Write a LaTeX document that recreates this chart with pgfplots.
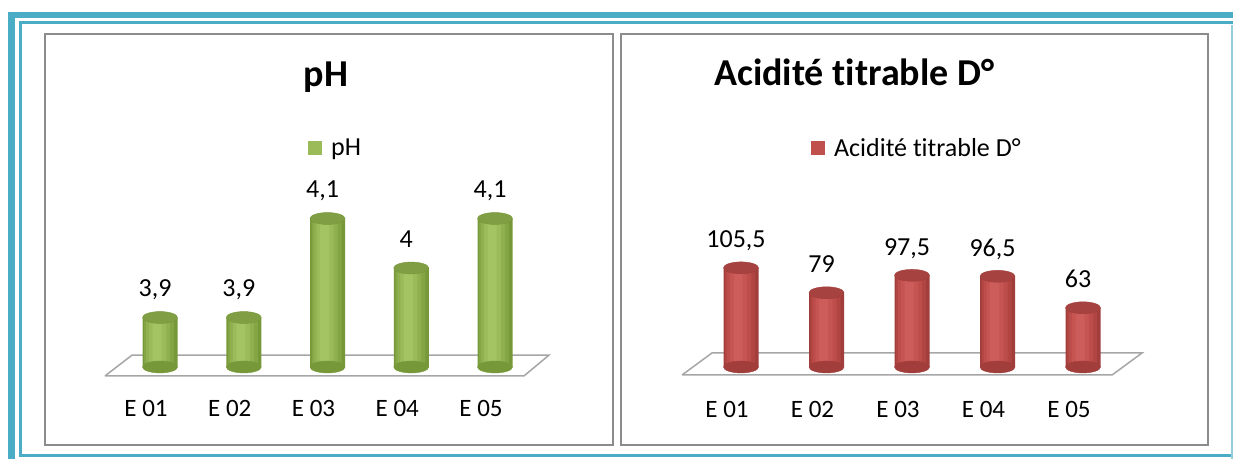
\documentclass[border=0pt]{standalone}
\usepackage{pgfplots}
\usepackage{pgfplotstable}
\pgfplotsset{compat=1.18}
\usepackage{fontspec}
\setmainfont{Carlito}[Ligatures=NoCommon]

\definecolor{tealb}{HTML}{4BACC6}
\definecolor{tealc}{HTML}{93CDDD}
\definecolor{framegray}{HTML}{8C8C8C}
\definecolor{floorgray}{HTML}{A6A6A6}
\definecolor{gmain}{HTML}{9BBB59}
\definecolor{gA}{HTML}{779838}
\definecolor{gB}{HTML}{84A544}
\definecolor{gC}{HTML}{90B04F}
\definecolor{gD}{HTML}{9BBB5A}
\definecolor{gE}{HTML}{A4C464}
\definecolor{gtop}{HTML}{809E44}
\definecolor{rmain}{HTML}{C0504D}
\definecolor{rA}{HTML}{A13D3A}
\definecolor{rB}{HTML}{B04542}
\definecolor{rC}{HTML}{BC4D4A}
\definecolor{rD}{HTML}{C65552}
\definecolor{rE}{HTML}{CD5D5A}
\definecolor{rtop}{HTML}{A6423F}

\pgfplotstableread{
x v
1 3.9
2 3.9
3 4.1
4 4.0
5 4.1
}\phdata

\pgfplotstableread{
x v
1 105.5
2 79
3 97.5
4 96.5
5 63
}\acdata

\pgfplotsset{
  cyl/.style 2 args={ybar, bar width=#1, bar shift=#2, draw=none, forget plot},
}

\begin{document}
\begin{tikzpicture}
\useasboundingbox (0pt,0pt) rectangle (1233pt,459pt);
% outer teal border
\fill[tealb] (8pt,441pt) rectangle (1233pt,447pt);
\fill[tealb] (8pt,0pt) rectangle (15pt,447pt);
\fill[tealb] (19pt,435pt) rectangle (1233pt,437.5pt);
\fill[tealb] (19pt,4pt) rectangle (22pt,437.5pt);
\fill[tealb] (19pt,2pt) rectangle (1233pt,5pt);
\fill[tealc] (1230.5pt,0pt) rectangle (1233pt,434pt);
% panels
\draw[framegray, line width=2pt] (45pt,14pt) rectangle (613pt,425pt);
\draw[framegray, line width=2pt] (621pt,14pt) rectangle (1208pt,425pt);

\begin{axis}[
  at={(76.25pt,42.5pt)}, anchor=south west, scale only axis,
  width=502.5pt, height=346.5pt,
  xmin=0, xmax=6, ymin=-0.1, ymax=0.6,
  axis line style={draw=none}, ytick=\empty,
  xtick={1,2,3,4,5}, xticklabels={E 01,E 02,E 03,E 04,E 05},
  major tick length=0pt,
  xticklabel style={anchor=base, xshift=-14pt, yshift=0pt, font=\fontsize{25}{30}\selectfont},
  clip=false,
  title={pH},
  title style={at={(rel axis cs:0.497,0.9365)}, anchor=base, font=\fontsize{38}{44}\selectfont\bfseries},
  legend style={draw=none, fill=none, at={(rel axis cs:0.461,0.775)}, anchor=west, inner sep=0pt,
    font=\fontsize{26}{30}\selectfont},
  /pgf/number format/use comma,
  /pgf/number format/assume math mode=true,
]
\addplot[draw=floorgray, fill=white, line width=1.5pt, forget plot]
  coordinates {(0.343,-0.018) (5.346,-0.018) (5.645,0.024) (0.666,0.024) (0.343,-0.018)};
\addplot[only marks, mark=*, mark size=17.5pt, mark options={yscale=0.34, fill=gA, draw=gA}, forget plot]
  table[x=x, y expr=0] {\phdata};
\addplot[cyl={35pt}{0pt}, fill=gA] table[x=x, y expr=\thisrow{v}-3.8] {\phdata};
\addplot[cyl={30pt}{-1pt}, fill=gB] table[x=x, y expr=\thisrow{v}-3.8] {\phdata};
\addplot[cyl={24pt}{-2pt}, fill=gC] table[x=x, y expr=\thisrow{v}-3.8] {\phdata};
\addplot[cyl={17pt}{-2.5pt}, fill=gD] table[x=x, y expr=\thisrow{v}-3.8] {\phdata};
\addplot[cyl={9pt}{-3pt}, fill=gE] table[x=x, y expr=\thisrow{v}-3.8] {\phdata};
\addplot[only marks, mark=*, mark size=17.5pt, mark options={yscale=0.34, fill=gtop, draw=gA}, forget plot,
  point meta=explicit, nodes near coords,
  nodes near coords style={anchor=base, yshift=21pt, xshift=-5pt, inner sep=0pt, text=black, font=\fontsize{26}{30}\selectfont}]
  table[x=x, y expr=\thisrow{v}-3.8, meta=v] {\phdata};
\addlegendimage{legend image code/.code={\path[draw=none, fill=none] (0pt,-7pt) rectangle (21pt,7pt); \fill[gmain, draw=none] (0pt,-7pt) rectangle (14pt,7pt);}}
\addlegendentry{pH}
\end{axis}

\begin{axis}[
  at={(655.5pt,45pt)}, anchor=south west, scale only axis,
  width=513pt, height=282pt,
  xmin=0, xmax=6, ymin=-50, ymax=250,
  axis line style={draw=none}, ytick=\empty,
  xtick={1,2,3,4,5}, xticklabels={E 01,E 02,E 03,E 04,E 05},
  major tick length=0pt,
  xticklabel style={anchor=base, xshift=-14pt, yshift=-3pt, font=\fontsize{25}{30}\selectfont},
  clip=false,
  title={Acidité titrable D°},
  title style={at={(rel axis cs:0.114,1.142)}, anchor=base west, inner sep=0pt, font=\fontsize{38}{44}\selectfont\bfseries},
  legend style={draw=none, fill=none, at={(rel axis cs:0.303,0.943)}, anchor=west, inner sep=0pt,
    font=\fontsize{26}{30}\selectfont},
  /pgf/number format/use comma,
  /pgf/number format/assume math mode=true,
]
\addplot[draw=floorgray, fill=white, line width=1.5pt, forget plot]
  coordinates {(0.31,-8.5) (5.34,-8.5) (5.69,14.9) (0.66,14.9) (0.31,-8.5)};
\addplot[only marks, mark=*, mark size=17.5pt, mark options={yscale=0.34, fill=rA, draw=rA}, forget plot]
  table[x=x, y expr=0] {\acdata};
\addplot[cyl={35pt}{0pt}, fill=rA] table[x=x, y=v] {\acdata};
\addplot[cyl={30pt}{-1pt}, fill=rB] table[x=x, y=v] {\acdata};
\addplot[cyl={24pt}{-2pt}, fill=rC] table[x=x, y=v] {\acdata};
\addplot[cyl={17pt}{-2.5pt}, fill=rD] table[x=x, y=v] {\acdata};
\addplot[cyl={9pt}{-3pt}, fill=rE] table[x=x, y=v] {\acdata};
\addplot[only marks, mark=*, mark size=17.5pt, mark options={yscale=0.34, fill=rtop, draw=rA}, forget plot,
  point meta=explicit, nodes near coords,
  nodes near coords style={anchor=base, yshift=20pt, xshift=-5pt, inner sep=0pt, text=black, font=\fontsize{26}{30}\selectfont}]
  table[x=x, y=v, meta=v] {\acdata};
\addlegendimage{legend image code/.code={\path[draw=none, fill=none] (0pt,-7pt) rectangle (21pt,7pt); \fill[rmain, draw=none] (0pt,-7pt) rectangle (14pt,7pt);}}
\addlegendentry{Acidité titrable D°}
\end{axis}
\end{tikzpicture}
\end{document}
